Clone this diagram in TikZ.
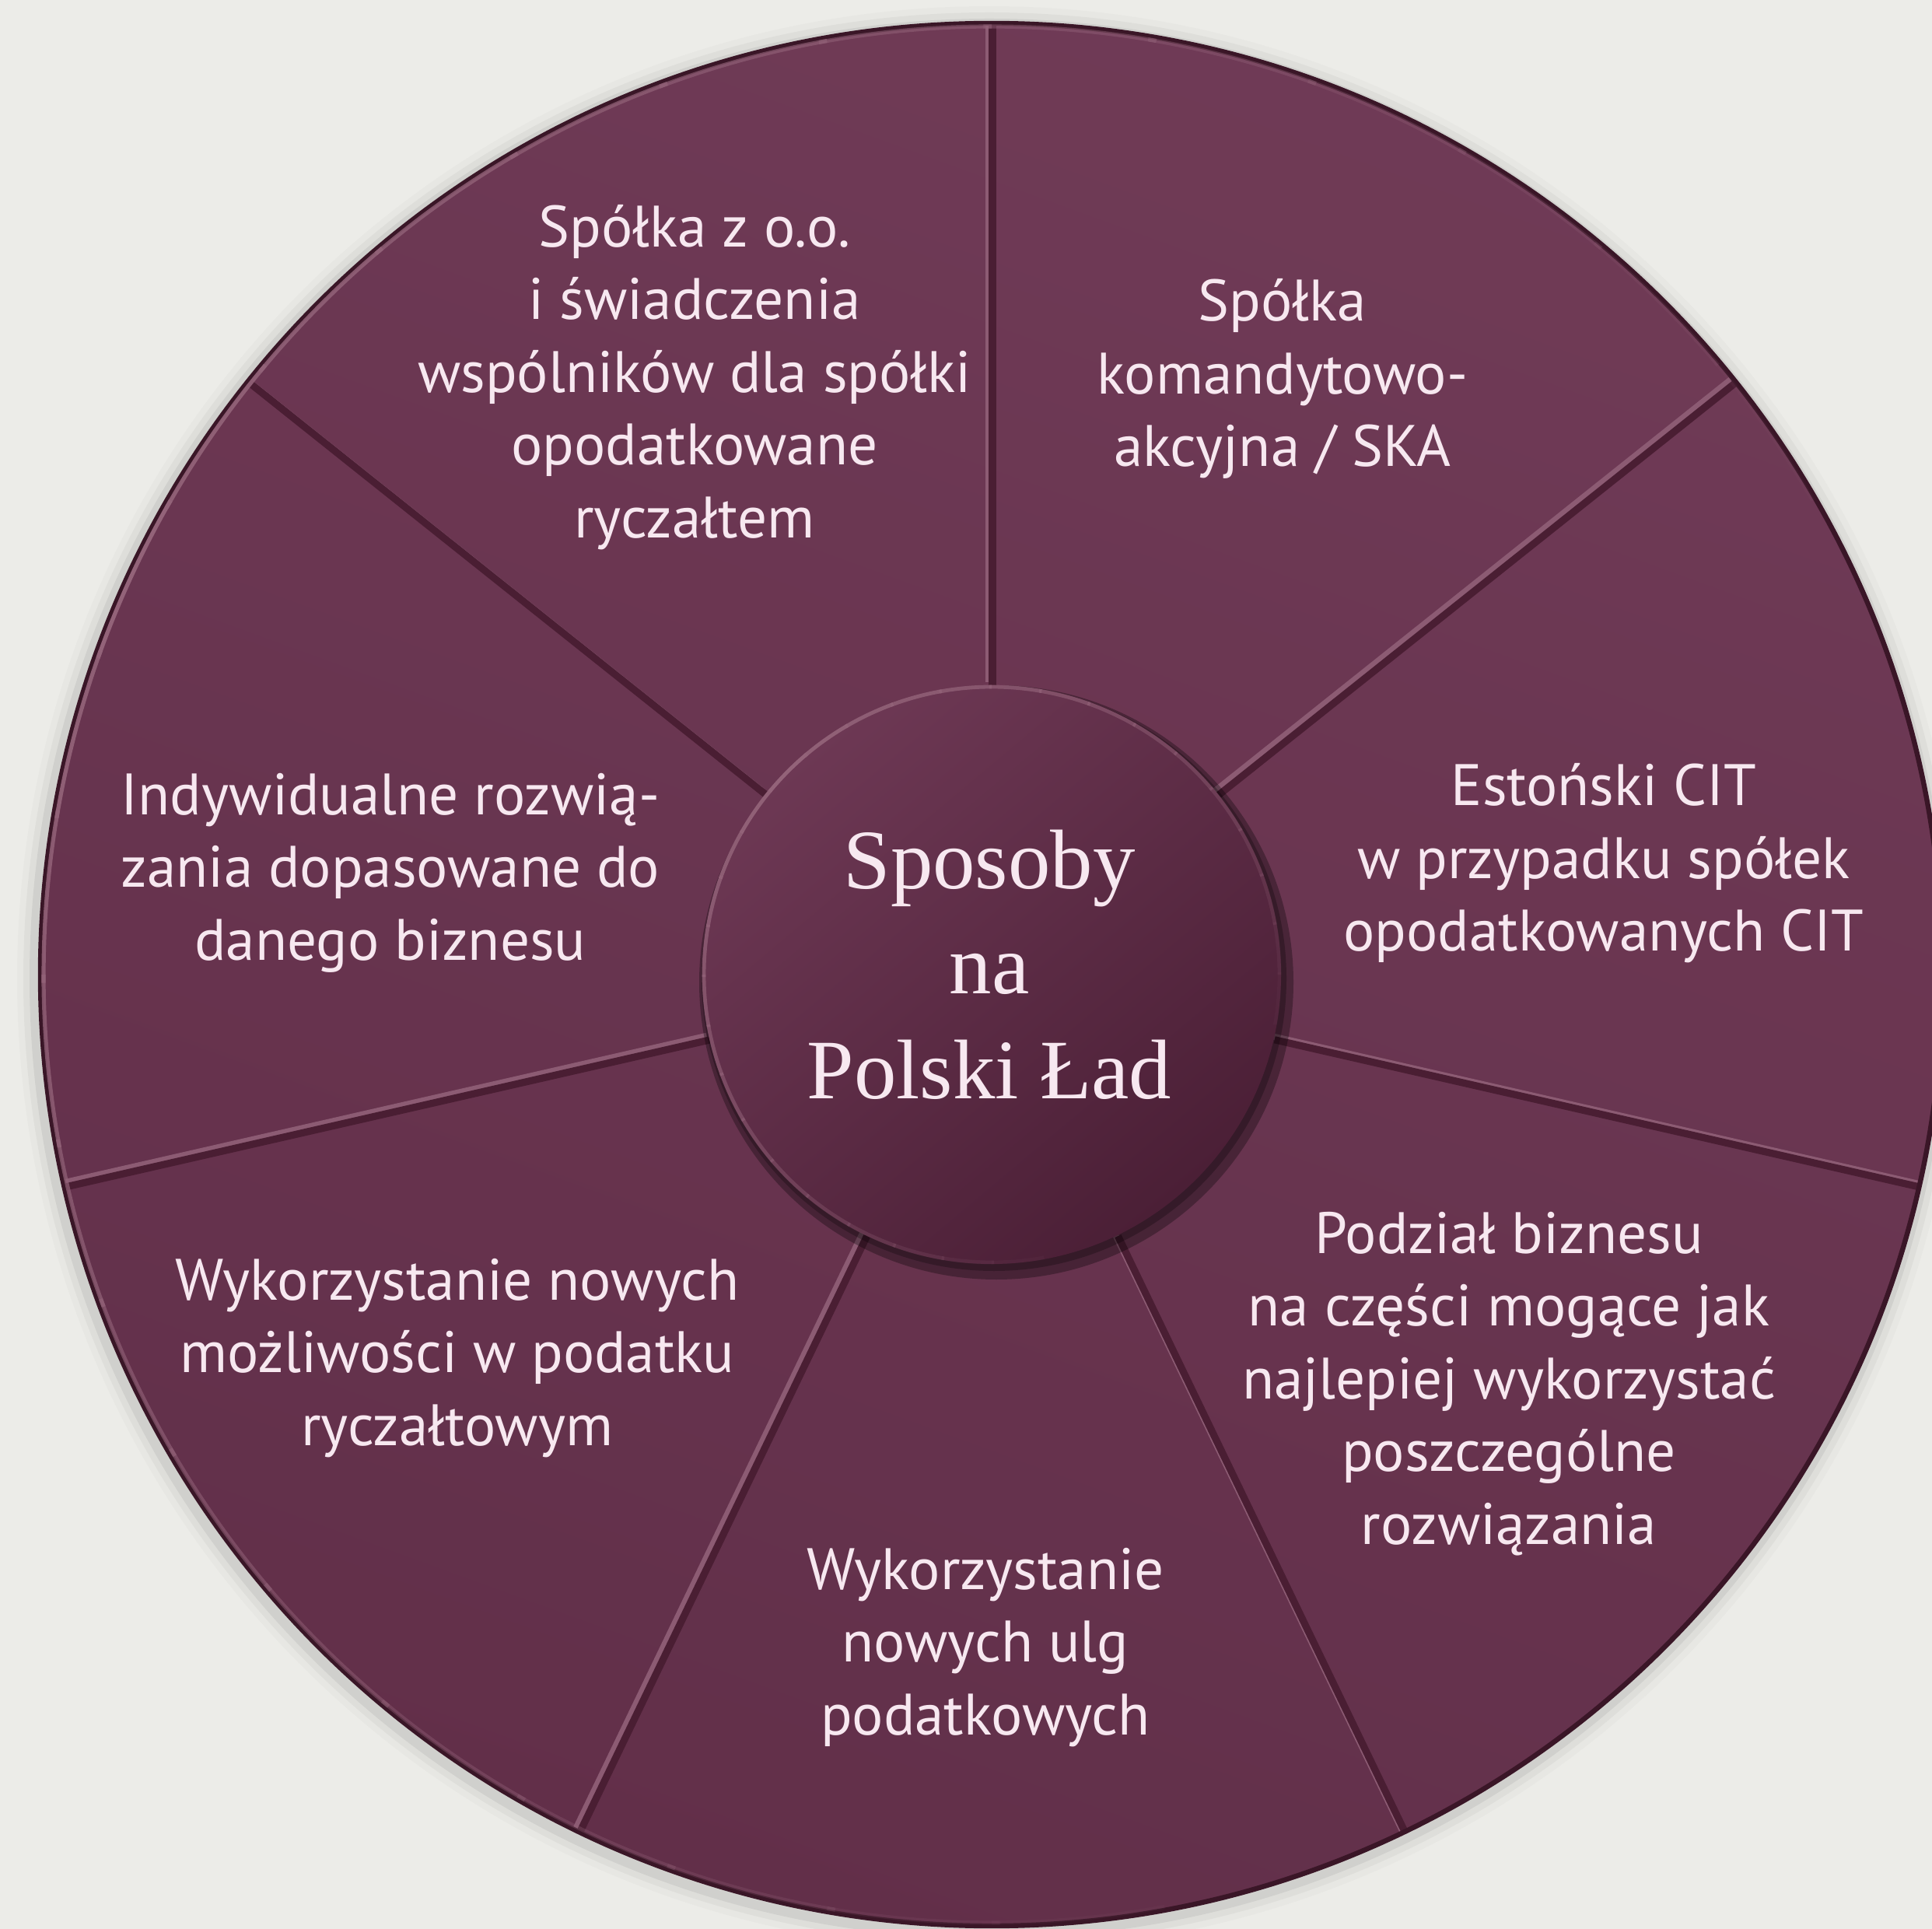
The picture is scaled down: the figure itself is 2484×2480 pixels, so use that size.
\documentclass[tikz,border=0pt]{standalone}
\usepackage{fontspec}
\setmainfont{Liberation Serif}
\newfontfamily\lblfont{PT Sans}
\usetikzlibrary{calc}
\definecolor{bgc}{HTML}{ECECE8}
\definecolor{wine}{HTML}{6B3651}
\definecolor{winelight}{HTML}{713C58}
\definecolor{winedark}{HTML}{602E48}
\definecolor{rimdark}{HTML}{3A1627}
\definecolor{rimlight}{HTML}{936379}
\definecolor{divdark}{HTML}{4A1E33}
\definecolor{divlight}{HTML}{8C5B73}
\definecolor{hubtop}{HTML}{6D3854}
\definecolor{hubbot}{HTML}{4B1F36}
\definecolor{txt}{HTML}{F7E8F0}
\tikzset{
  lbl/.style={text=txt, align=center, font=\lblfont\fontsize{18.8}{23.4}\selectfont, inner sep=0pt},
  hubtxt/.style={text=txt, align=center, font=\fontsize{27.2}{33.75}\selectfont, inner sep=0pt},
  divl/.style={divlight, line width=2pt},
  divd/.style={divdark, line width=2.3pt},
}
\begin{document}
\begin{tikzpicture}[x=0.25pt,y=-0.25pt]
\useasboundingbox (0,0) rectangle (2484,2480);
\clip (0,0) rectangle (2484,2480);
\fill[bgc] (0,0) rectangle (2484,2480);
\coordinate (O) at (1275,1253);
% soft shadow around the disc
\foreach \r/\op in {1250/0.02,1242/0.035,1234/0.06}{
  \fill[black,opacity=\op] ($(O)+(-3,5)$) circle (\r);
}
% disc
\fill[wine] (O) circle (1225);
\shade[top color=winelight, bottom color=winedark, shading angle=-20, opacity=0.8] (O) circle (1225);
% dividers
\begin{scope}
\clip (O) circle (1222);
\foreach \k in {0,...,6}{
  \pgfmathsetmacro\ang{\k*360/7-90}
  \draw[divl] ($(O)+(\ang:372)+(-4,-4)$) -- ($(O)+(\ang:1240)+(-4,-4)$);
  \draw[divd] ($(O)+(\ang:372)+(1,1)$) -- ($(O)+(\ang:1240)+(1,1)$);
}
\end{scope}
% outer rim
\draw[rimdark, line width=1.6pt] (O) circle (1223);
\foreach \a in {20,30,...,280}{
  \pgfmathsetmacro\op{max(0,1-abs(\a-150)/130)}
  \draw[rimlight, line width=1.3pt, opacity=\op] ($(O)+(-\a:1219)$) arc[start angle=-\a, end angle=-\a-10.5, radius=1219];
}
% hub
\fill[black, opacity=0.3] ($(O)+(6,10)$) circle (382);
\fill[black, opacity=0.25] ($(O)+(3,5)$) circle (376);
\node[circle, minimum size=186pt, inner sep=0pt, top color=hubtop, bottom color=hubbot, shading angle=40] (hub) at (O) {};
\foreach \a in {-20,-10,...,280}{
  \pgfmathsetmacro\op{max(0,1-abs(\a-130)/150)}
  \draw[rimlight, line width=1.2pt, opacity=\op] ($(O)+(-\a:370)$) arc[start angle=-\a, end angle=-\a-10.5, radius=370];
}
\node[hubtxt] (title) at (1272,1240) {Sposoby\\na\\Polski Ład};
% sector labels
\node[lbl] (s1) at (893,485) {Spółka z o.o.\\i świadczenia\\wspólników dla spółki\\opodatkowane\\ryczałtem};
\node[lbl] (s2) at (1649,487) {Spółka\\komandytowo-\\akcyjna / SKA};
\node[lbl] (s3) at (2062,1110) {Estoński CIT\\w przypadku spółek\\opodatkowanych CIT};
\node[lbl] (s4) at (1940,1779) {Podział biznesu\\na części mogące jak\\najlepiej wykorzystać\\poszczególne\\rozwiązania};
\node[lbl] (s5) at (1267,2118) {Wykorzystanie\\nowych ulg\\podatkowych};
\node[lbl] (s6) at (588,1746) {Wykorzystanie nowych\\możliwości w podatku\\ryczałtowym};
\node[lbl] (s7) at (502,1122) {Indywidualne rozwią-\\zania dopasowane do\\danego biznesu};
\end{tikzpicture}
\end{document}
